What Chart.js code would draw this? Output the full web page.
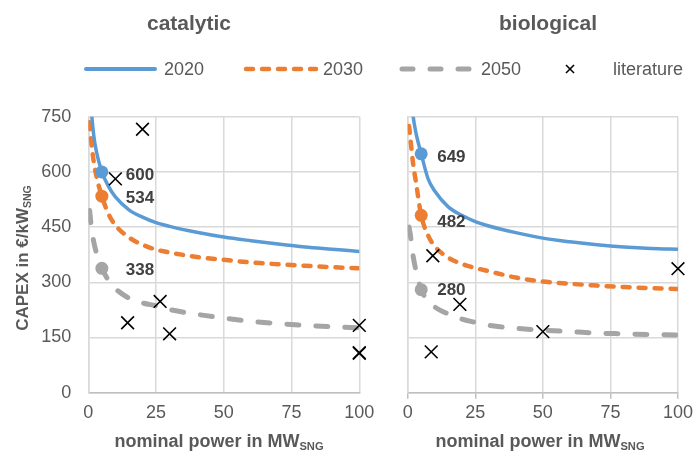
<!DOCTYPE html>
<html>
<head>
<meta charset="utf-8">
<script src="https://cdn.jsdelivr.net/npm/chart.js@4/dist/chart.umd.min.js"></script>
<style>
html,body{margin:0;padding:0;background:#fff;}
#wrap{position:relative;width:697px;height:461px;overflow:hidden;font-family:"Liberation Sans",Arial,sans-serif;color:#595959;}
#wrap canvas{position:absolute;left:0;top:0;}
.t{position:absolute;white-space:nowrap;line-height:1;}
.title{font-weight:bold;font-size:21px;transform:translate(-50%,-50%);}
.xt{font-weight:bold;font-size:18px;transform:translate(-50%,-50%);}
.yt{font-weight:bold;font-size:17px;transform:translate(-50%,-50%) rotate(-90deg);}
.t sub{font-size:0.62em;vertical-align:baseline;position:relative;top:0.3em;}
.lg{font-size:18px;transform:translateY(-50%);}
</style>
</head>
<body>
<div id="wrap">
  <canvas id="cat" width="697" height="461"></canvas>
  <canvas id="bio" width="697" height="461"></canvas>
  <svg width="697" height="461" style="position:absolute;left:0;top:0">
    <line x1="86" y1="69" x2="155" y2="69" stroke="#5B9BD5" stroke-width="4" stroke-linecap="round"/>
    <line x1="246" y1="69" x2="316" y2="69" stroke="#ED7D31" stroke-width="4.5" stroke-linecap="round" stroke-dasharray="7 9"/>
    <line x1="402" y1="69" x2="476" y2="69" stroke="#A5A5A5" stroke-width="5" stroke-linecap="round" stroke-dasharray="11 17"/>
    <line x1="566" y1="65" x2="574" y2="73" stroke="#000" stroke-width="1.6"/>
    <line x1="566" y1="73" x2="574" y2="65" stroke="#000" stroke-width="1.6"/>
  </svg>
  <div class="t title" style="left:189px;top:22px">catalytic</div>
  <div class="t title" style="left:548px;top:22px">biological</div>
  <div class="t lg" style="left:164px;top:69px">2020</div>
  <div class="t lg" style="left:323px;top:69px">2030</div>
  <div class="t lg" style="left:481px;top:69px">2050</div>
  <div class="t lg" style="left:613px;top:69px">literature</div>
  <div class="t yt" style="left:22px;top:258px">CAPEX in €/kW<sub>SNG</sub></div>
  <div class="t xt" style="left:219px;top:441px">nominal power in MW<sub>SNG</sub></div>
  <div class="t xt" style="left:540px;top:441px">nominal power in MW<sub>SNG</sub></div>
</div>
<script>
// ---- data ----
const powerMW = [0.5, 1, 2, 3, 5, 7.5, 10, 15, 20, 25, 30, 40, 50, 60, 70, 80, 90, 100];

const cat2020 = [850, 780, 700, 655, 600, 560, 532, 497, 477, 462, 452, 436, 423, 413, 404, 396, 390, 384];
const cat2030 = [735, 690, 628, 588, 534, 485, 455, 422, 402, 389, 381, 369, 361, 354, 349, 345, 341, 338];
const cat2050 = [495, 458, 410, 380, 338, 305, 283, 257, 244, 236, 226, 213, 203, 194, 188, 183, 179, 176];

const bio2020 = [900, 830, 752, 708, 649, 582, 548, 505, 482, 465, 453, 435, 420, 410, 402, 396, 392, 390];
const bio2030 = [725, 690, 622, 575, 482, 428, 398, 367, 350, 339, 330, 313, 302, 296, 291, 287, 284, 282];
const bio2050 = [450, 428, 372, 334, 280, 250, 233, 214, 200, 191, 183, 175, 170, 166, 162, 160, 158, 157];

const markerPowerMW = 5;
const catMarkerCapex = [600, 534, 338];
const bioMarkerCapex = [649, 482, 280];

const catLitPower = [10, 20, 26.5, 14.5, 30, 100, 100, 100];
const catLitCapex = [581, 716, 248, 190, 160, 183, 107, 109];
const bioLitPower = [9.3, 19.3, 50, 100, 8.7];
const bioLitCapex = [372, 240, 166, 337, 111];

const xTickValues = [0, 25, 50, 75, 100];
const yTickValues = [0, 150, 300, 450, 600, 750];
const seriesNames = ['2020', '2030', '2050'];

// ---- styling ----
const FONT = '"Liberation Sans", Arial, sans-serif';
const COLORS = ['#5B9BD5', '#ED7D31', '#A5A5A5'];
const LINE_STYLE = [
  {borderWidth: 3.5, borderDash: [], borderCapStyle: 'round'},
  {borderWidth: 4.5, borderDash: [7, 9], borderCapStyle: 'round'},
  {borderWidth: 5, borderDash: [12, 17], borderCapStyle: 'round'}
];

function pts(xs, ys) { return xs.map((x, i) => ({x: x, y: ys[i]})); }

const valueLabelPlugin = {
  id: 'valueLabels',
  afterDatasetsDraw(chart) {
    const ctx = chart.ctx;
    chart.data.datasets.forEach((ds, i) => {
      if (ds.valueLabel === undefined) return;
      const el = chart.getDatasetMeta(i).data[0];
      if (!el) return;
      ctx.save();
      ctx.font = 'bold 17px ' + FONT;
      ctx.fillStyle = '#404040';
      ctx.textAlign = 'left';
      ctx.textBaseline = 'middle';
      ctx.fillText(ds.valueLabel, el.x + ds.labelDx, el.y + ds.labelDy);
      ctx.restore();
    });
  }
};

function buildChart(id, series, markers, litX, litY, cfg) {
  const datasets = [];
  datasets.push({
    type: 'scatter', label: 'literature', data: pts(litX, litY),
    pointStyle: 'crossRot', pointRadius: 9, pointBorderWidth: 1.6,
    borderColor: '#000', backgroundColor: '#000', showLine: false, order: 0, clip: false
  });
  markers.forEach((v, k) => {
    datasets.push({
      type: 'scatter', label: seriesNames[k] + ' marker', data: [{x: markerPowerMW, y: v}],
      pointStyle: 'circle', pointRadius: 6.5, pointBorderWidth: 0,
      backgroundColor: COLORS[k], borderColor: COLORS[k], showLine: false, order: 1,
      valueLabel: String(v), labelDx: cfg.labelDx, labelDy: cfg.labelDy[k]
    });
  });
  series.forEach((s, k) => {
    datasets.push(Object.assign({
      type: 'line', label: seriesNames[k], data: pts(powerMW, s),
      borderColor: COLORS[k], pointRadius: 0, fill: false,
      cubicInterpolationMode: 'monotone', order: 2 + k
    }, LINE_STYLE[k]));
  });

  return new Chart(document.getElementById(id), {
    type: 'line',
    data: {datasets: datasets},
    plugins: [valueLabelPlugin],
    options: {
      responsive: false, animation: false, devicePixelRatio: 1,
      layout: {padding: {left: 0, top: 116.7, right: cfg.padRight, bottom: 28.3}},
      plugins: {legend: {display: false}, tooltip: {enabled: false}},
      scales: {
        x: {
          type: 'linear', min: 0, max: 100,
          afterBuildTicks: s => { s.ticks = xTickValues.map(v => ({value: v})); },
          afterFit: s => { s.height = 40; },
          ticks: {font: {size: 18, family: FONT}, color: '#595959', padding: cfg.xTickPad, maxRotation: 0},
          grid: {color: '#D9D9D9', lineWidth: 1.5, drawTicks: cfg.drawXTicks, tickLength: 6, tickColor: '#BFBFBF', tickWidth: 1.5},
          border: {color: '#BFBFBF', width: 1.5}
        },
        y: {
          type: 'linear', min: 0, max: 750,
          afterBuildTicks: s => { s.ticks = yTickValues.map(v => ({value: v})); },
          afterFit: s => { s.width = cfg.yWidth; },
          ticks: {display: cfg.showY, font: {size: 18, family: FONT}, color: '#595959', padding: 17},
          grid: {color: '#D9D9D9', lineWidth: 1.5, drawTicks: false},
          border: {color: '#D9D9D9', width: 1.5}
        }
      }
    }
  });
}

buildChart('cat', [cat2020, cat2030, cat2050], catMarkerCapex, catLitPower, catLitCapex,
  {padRight: 697 - 359.3, yWidth: 88.3, showY: true, drawXTicks: false, xTickPad: 10, labelDx: 24, labelDy: [3, 2, 2]});
buildChart('bio', [bio2020, bio2030, bio2050], bioMarkerCapex, bioLitPower, bioLitCapex,
  {padRight: 697 - 679.3, yWidth: 407.7, showY: false, drawXTicks: true, xTickPad: 4, labelDx: 16, labelDy: [3, 7, 1]});
</script>
</body>
</html>
